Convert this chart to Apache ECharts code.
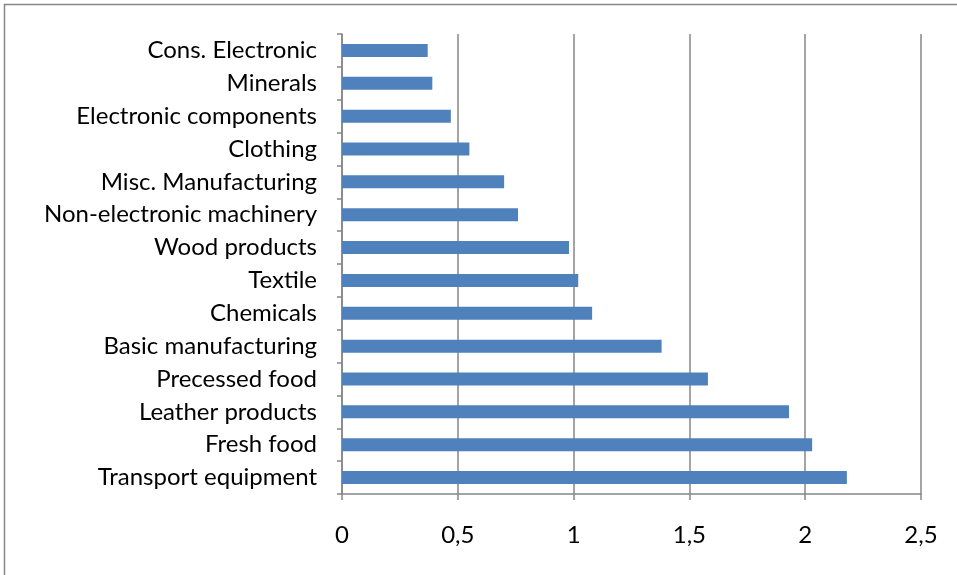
<!DOCTYPE html>
<html>
<head>
<meta charset="utf-8">
<script src="https://cdn.jsdelivr.net/npm/echarts@6/dist/echarts.min.js"></script>
<style>
html,body{margin:0;padding:0;background:#fff;}
#chart{width:957px;height:575px;}
</style>
</head>
<body>
<div id="chart"></div>
<script>
const categories = [
  "Cons. Electronic",
  "Minerals",
  "Electronic components",
  "Clothing",
  "Misc. Manufacturing",
  "Non-electronic machinery",
  "Wood products",
  "Textile",
  "Chemicals",
  "Basic manufacturing",
  "Precessed food",
  "Leather products",
  "Fresh food",
  "Transport equipment"
];
const values = [0.37, 0.39, 0.47, 0.55, 0.70, 0.76, 0.98, 1.02, 1.08, 1.38, 1.58, 1.93, 2.03, 2.18];
const axisMin = 0;
const axisMax = 2.5;
const axisStep = 0.5;

const chart = echarts.init(document.getElementById('chart'), null, {renderer: 'canvas'});
const gray = '#868686';
const font = 'Lato, "Liberation Sans", sans-serif';
chart.setOption({
  animation: false,
  backgroundColor: '#fff',
  graphic: [{
    type: 'rect',
    shape: {x: 4.5, y: 4.5, width: 1200, height: 1200},
    style: {fill: 'none', stroke: gray, lineWidth: 1.5},
    silent: true
  }],
  grid: {left: 342, right: 36, top: 34, bottom: 81, containLabel: false},
  xAxis: {
    type: 'value',
    min: axisMin, max: axisMax, interval: axisStep,
    axisLine: {show: true, lineStyle: {color: gray, width: 1.5}},
    axisTick: {show: true, length: 6, lineStyle: {color: gray, width: 1.5}},
    splitLine: {show: true, lineStyle: {color: gray, width: 1.5}},
    axisLabel: {
      color: '#000', fontFamily: font, fontSize: 24, margin: 29,
      formatter: v => String(v).replace('.', ',')
    }
  },
  yAxis: {
    type: 'category',
    data: categories,
    inverse: true,
    axisLine: {show: true, lineStyle: {color: gray, width: 1.5}},
    axisTick: {show: true, length: 5, alignWithLabel: false, lineStyle: {color: gray, width: 1.5}},
    splitLine: {show: false},
    axisLabel: {color: '#000', fontFamily: font, fontSize: 24, margin: 25}
  },
  series: [{
    type: 'bar',
    data: values,
    barWidth: 13,
    itemStyle: {color: '#4F81BD'},
    silent: true
  }]
});
</script>
</body>
</html>
